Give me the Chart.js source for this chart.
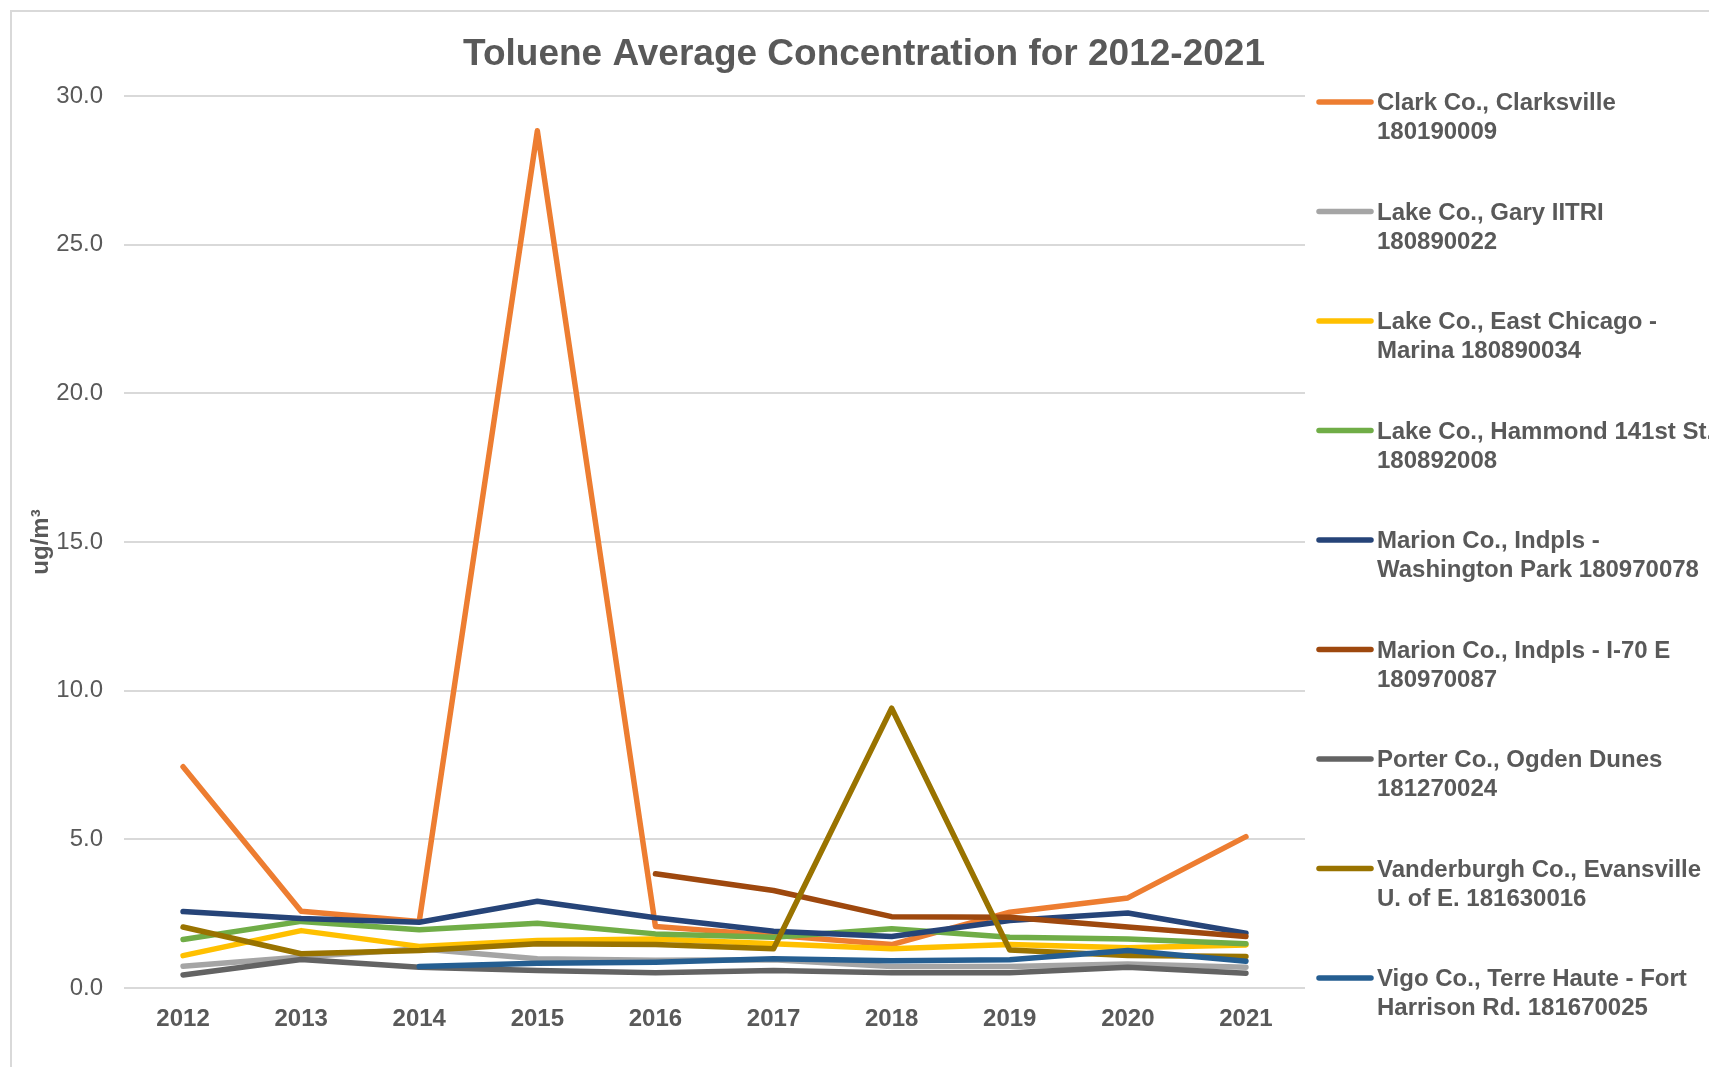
<!DOCTYPE html>
<html>
<head>
<meta charset="utf-8">
<script src="https://cdn.jsdelivr.net/npm/chart.js@4.4.1/dist/chart.umd.min.js"></script>
<style>
  html, body { margin: 0; padding: 0; background: #fff; overflow: hidden; }
  #wrap { position: relative; width: 1709px; height: 1067px; }
  #frame { position: absolute; left: 10px; top: 10px; width: 1720px; height: 1080px; border: 2px solid #d9d9d9; box-sizing: border-box; }
  canvas { position: absolute; left: 0; top: 0; }
</style>
</head>
<body>
<div id="wrap">
  <div id="frame"></div>
  <canvas id="chart" width="1709" height="1067"></canvas>
</div>
<script>
// ---- data ----
const years = ['2012', '2013', '2014', '2015', '2016', '2017', '2018', '2019', '2020', '2021'];
const yTicks = [0, 5, 10, 15, 20, 25, 30];

const clarkClarksville   = [7.44, 2.58, 2.24, 28.83, 2.07, 1.77, 1.46, 2.55, 3.03, 5.09];
const lakeGary           = [0.73, 1.04, 1.32, 0.98, 0.93, 0.95, 0.72, 0.72, 0.81, 0.70];
const lakeEastChicago    = [1.09, 1.93, 1.40, 1.60, 1.65, 1.49, 1.32, 1.46, 1.35, 1.45];
const lakeHammond        = [1.63, 2.24, 1.96, 2.18, 1.82, 1.71, 1.99, 1.71, 1.65, 1.49];
const marionWashington   = [2.57, 2.34, 2.21, 2.92, 2.36, 1.91, 1.73, 2.27, 2.52, 1.84];
const marionI70          = [null, null, null, null, 3.84, 3.28, 2.40, 2.38, 2.05, 1.73];
const porterOgden        = [0.44, 0.96, 0.70, 0.59, 0.51, 0.59, 0.51, 0.51, 0.70, 0.50];
const vanderburghEvans   = [2.05, 1.15, 1.26, 1.49, 1.46, 1.32, 9.41, 1.28, 1.09, 1.06];
const vigoTerreHaute     = [null, null, 0.72, 0.83, 0.87, 0.98, 0.92, 0.95, 1.26, 0.90];

const seriesNames = [
  ['Clark Co., Clarksville', '180190009'],
  ['Lake Co., Gary IITRI', '180890022'],
  ['Lake Co., East Chicago -', 'Marina 180890034'],
  ['Lake Co., Hammond 141st St.', '180892008'],
  ['Marion Co., Indpls -', 'Washington Park 180970078'],
  ['Marion Co., Indpls - I-70 E', '180970087'],
  ['Porter Co., Ogden Dunes', '181270024'],
  ['Vanderburgh Co., Evansville', 'U. of E. 181630016'],
  ['Vigo Co., Terre Haute - Fort', 'Harrison Rd. 181670025']
];
const seriesValues = [clarkClarksville, lakeGary, lakeEastChicago, lakeHammond, marionWashington,
  marionI70, porterOgden, vanderburghEvans, vigoTerreHaute];
const seriesColors = ['#ED7D31', '#A5A5A5', '#FFC000', '#70AD47', '#264478',
  '#9E480E', '#636363', '#997300', '#255E91'];

const TEXT = '#595959';
const FONT = '"Liberation Sans", Arial, sans-serif';

const datasets = seriesValues.map((vals, i) => ({
  label: seriesNames[i].join(' '),
  data: vals,
  borderColor: seriesColors[i],
  backgroundColor: seriesColors[i],
  borderWidth: 5.5,
  pointRadius: 0,
  tension: 0,
  spanGaps: false,
  borderCapStyle: 'round',
  borderJoinStyle: 'round',
  order: -i   // later series drawn on top, as in the original
}));

// title + multi-line legend drawn on the canvas
const decor = {
  id: 'decor',
  afterDraw(chart) {
    const ctx = chart.ctx;
    ctx.save();
    ctx.fillStyle = TEXT;
    ctx.font = 'bold 37px ' + FONT;
    ctx.textAlign = 'center';
    ctx.textBaseline = 'middle';
    ctx.fillText('Toluene Average Concentration for 2012-2021', 864, 55);

    ctx.textAlign = 'left';
    ctx.font = 'bold 24px ' + FONT;
    chart.data.datasets.forEach((ds, i) => {
      const y = 102 + i * 109.5;
      ctx.strokeStyle = ds.borderColor;
      ctx.lineWidth = 5.5;
      ctx.lineCap = 'round';
      ctx.beginPath();
      ctx.moveTo(1319, y);
      ctx.lineTo(1371, y);
      ctx.stroke();
      ctx.fillStyle = TEXT;
      seriesNames[i].forEach((line, k) => ctx.fillText(line, 1377, y + 1.5 + k * 29));
    });
    ctx.restore();
  }
};

new Chart(document.getElementById('chart'), {
  type: 'line',
  data: { labels: years, datasets },
  plugins: [decor],
  options: {
    responsive: false,
    animation: false,
    layout: { padding: { left: 0, right: 404, top: 96, bottom: 0 } },
    plugins: { legend: { display: false }, title: { display: false }, tooltip: { enabled: false } },
    scales: {
      x: {
        offset: true,
        grid: { display: false, drawTicks: false },
        border: { display: false },
        ticks: { color: TEXT, font: { family: FONT, size: 24, weight: 'bold' }, padding: 17 },
        afterFit(s) { s.height = 79; }
      },
      y: {
        min: 0, max: 30,
        afterBuildTicks(s) { s.ticks = yTicks.map(v => ({ value: v })); },
        grid: { color: '#d9d9d9', lineWidth: 2, drawTicks: false },
        border: { display: false },
        ticks: { color: TEXT, font: { family: FONT, size: 24 }, padding: 21, callback: v => v.toFixed(1) },
        title: { display: true, text: 'ug/m³', color: TEXT, font: { family: FONT, size: 24, weight: 'bold' }, padding: { top: 27, bottom: 0 } },
        afterFit(s) { s.width = 124; }
      }
    }
  }
});
</script>
</body>
</html>
